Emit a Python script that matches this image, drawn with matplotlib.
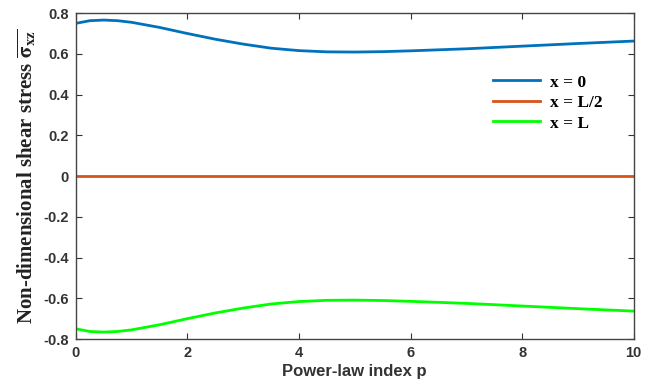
import numpy as np
import matplotlib.pyplot as plt

# power-law index and shear stress at the three sections
p = [0, 0.25, 0.5, 0.75, 1, 1.5, 2, 2.5, 3, 3.5, 4, 4.5, 5, 5.5, 6, 7, 8, 9, 10]
tau_x0 = [0.750, 0.763, 0.766, 0.763, 0.755, 0.730, 0.700, 0.672, 0.648, 0.628,
          0.616, 0.610, 0.609, 0.611, 0.615, 0.625, 0.638, 0.651, 0.663]
tau_xhalf = [0.0] * len(p)
tau_xL = [-v for v in tau_x0]

labels = ['x = 0', 'x = L/2', 'x = L']
xticks = [0, 2, 4, 6, 8, 10]
yticks = [-0.8, -0.6, -0.4, -0.2, 0, 0.2, 0.4, 0.6, 0.8]

plt.rcParams['mathtext.fontset'] = 'stix'

fig = plt.figure(figsize=(6.54, 3.87), dpi=100)
ax = fig.add_axes([0.116, 0.124, 0.853, 0.842])

ax.plot(p, tau_x0, color='#0072BD', lw=2, label=labels[0])
ax.plot(p, tau_xhalf, color='#D95319', lw=2, label=labels[1])
ax.plot(p, tau_xL, color='#00FF00', lw=2, label=labels[2])

ax.set_xlim(0, 10)
ax.set_ylim(-0.8, 0.8)
ax.set_xticks(xticks)
ax.set_yticks(yticks)
ax.set_xticklabels([str(t) for t in xticks])
ax.set_yticklabels(['0' if t == 0 else f'{t:.1f}' for t in yticks])
ax.tick_params(direction='in', top=True, right=True, length=4, width=0.8,
               labelsize=10.5, colors='#333333', pad=5)
for lab in ax.get_xticklabels() + ax.get_yticklabels():
    lab.set_fontfamily('Liberation Sans')
    lab.set_fontweight('bold')
    lab.set_color('#333333')
for s in ax.spines.values():
    s.set_color('#444444')
    s.set_linewidth(1.0)

ax.set_xlabel('Power-law index p', fontfamily='Liberation Sans',
              fontweight='bold', fontsize=12, color='#333333', labelpad=3)
ax.set_ylabel(r'Non-dimensional shear stress $\mathbf{\overline{\sigma_{xz}}}$',
              fontfamily='Liberation Serif', fontweight='bold', fontsize=15,
              color='#222222', labelpad=4)

leg = ax.legend(loc='upper left', bbox_to_anchor=(0.72, 0.86), frameon=False,
                handlelength=2.7, handletextpad=0.6, labelspacing=0.25,
                prop={'family': 'Liberation Serif', 'weight': 'bold', 'size': 12.5})

fig.savefig('out.png', dpi=100)
